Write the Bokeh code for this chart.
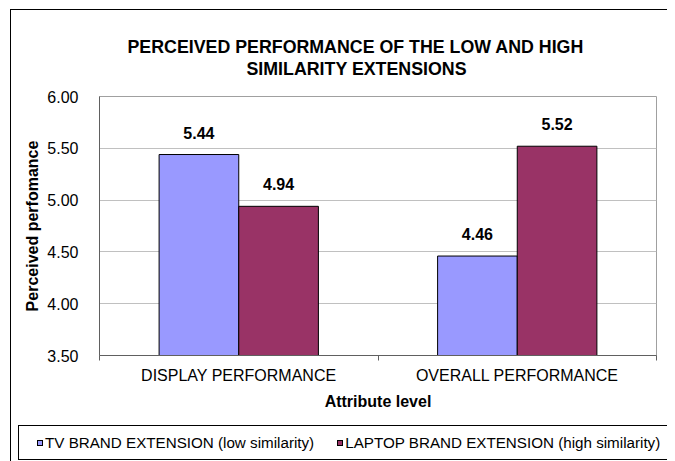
from bokeh.plotting import figure
from bokeh.layouts import column
from bokeh.models import (ColumnDataSource, Range1d, FixedTicker, NumeralTickFormatter, Title, Div)
from bokeh.core.properties import value
from bokeh.embed import file_html
from bokeh.resources import INLINE
import numpy as np

# ---- data ----
categories = ["DISPLAY PERFORMANCE", "OVERALL PERFORMANCE"]
series_names = ["TV BRAND EXTENSION (low similarity)",
                "LAPTOP BRAND EXTENSION (high similarity)"]
series_colors = ["#9999FF", "#993366"]
tv_values = [5.44, 4.46]
laptop_values = [4.94, 5.52]
y_ticks = [3.50, 4.00, 4.50, 5.00, 5.50, 6.00]
title_lines = ["PERCEIVED PERFORMANCE OF THE LOW AND HIGH", "SIMILARITY EXTENSIONS"]
x_title = "Attribute level"
y_title = "Perceived perfomance"

FONT = "Liberation Sans"
y_min, y_max = y_ticks[0], y_ticks[-1]
n = len(categories)
idx = np.arange(n)
bar_w = 0.286

p = figure(frame_width=557, frame_height=259,
           x_range=Range1d(-0.5, n - 0.5), y_range=Range1d(y_min, y_max),
           output_backend="svg", toolbar_location=None,
           min_border_left=88, min_border_right=11,
           min_border_top=86, min_border_bottom=70)
p.title.text = ""
p.background_fill_color = "white"
p.border_fill_color = "white"
p.outline_line_color = "#a0a0a0"

src_tv = ColumnDataSource(dict(x=idx - bar_w / 2, top=tv_values,
                               lab=[f"{v:.2f}" for v in tv_values]))
src_lp = ColumnDataSource(dict(x=idx + bar_w / 2, top=laptop_values,
                               lab=[f"{v:.2f}" for v in laptop_values]))

p.vbar(x="x", top="top", bottom=y_min, width=bar_w, source=src_tv,
       fill_color=series_colors[0], line_color="black", line_width=1)
p.vbar(x="x", top="top", bottom=y_min, width=bar_w, source=src_lp,
       fill_color=series_colors[1], line_color="black", line_width=1)

for src in (src_tv, src_lp):
    p.text(x="x", y="top", text="lab", source=src, text_align="center",
           text_baseline="bottom", y_offset=-16,
           text_font=value(FONT), text_font_size="16px",
           text_font_style="bold", text_color="black")

# titles: spacer, then line 2 (inner), then line 1 (outer)
p.add_layout(Title(text=" ", text_font_size="1px", standoff=14), "above")
offsets = [28, 147]
for line, off in reversed(list(zip(title_lines, offsets))):
    p.add_layout(Title(text=line, align="left", offset=off, standoff=0,
                       vertical_align="middle",
                       text_font=FONT, text_font_size="17.8px",
                       text_font_style="bold", text_color="black"), "above")

# y axis
ya = p.yaxis[0]
ya.ticker = FixedTicker(ticks=y_ticks)
ya.formatter = NumeralTickFormatter(format="0.00")
ya.major_tick_line_color = None
ya.minor_tick_line_color = None
ya.axis_line_color = "#606060"
ya.major_label_standoff = 15
ya.major_label_text_font = FONT
ya.major_label_text_font_size = "16px"
ya.major_label_text_color = "black"
ya.axis_label = y_title
ya.axis_label_text_font = FONT
ya.axis_label_text_font_size = "16px"
ya.axis_label_text_font_style = "bold"
ya.axis_label_text_color = "black"
ya.axis_label_standoff = 3

# x axis
xa = p.xaxis[0]
xa.ticker = FixedTicker(ticks=list(idx), minor_ticks=[i - 0.5 for i in range(n + 1)])
xa.major_label_overrides = {int(i): c for i, c in zip(idx, categories)}
xa.major_tick_line_color = None
xa.major_tick_in = 0
xa.major_tick_out = 0
xa.minor_tick_in = 0
xa.minor_tick_out = 5
xa.minor_tick_line_color = "#606060"
xa.axis_line_color = "#606060"
xa.major_label_standoff = 6
xa.major_label_text_font = FONT
xa.major_label_text_font_size = "16px"
xa.major_label_text_color = "black"
xa.axis_label = x_title
xa.axis_label_text_font = FONT
xa.axis_label_text_font_size = "16px"
xa.axis_label_text_font_style = "bold"
xa.axis_label_text_color = "black"
xa.axis_label_standoff = 6

p.xgrid.grid_line_color = None
p.ygrid.grid_line_color = "#c0c0c0"
p.ygrid.ticker = FixedTicker(ticks=y_ticks)

# legend strip (HTML), built from the series names and colours
def legend_item(name, color):
    return ('<span style="display:inline-flex;align-items:center;margin-right:23px;">'
            f'<span style="display:inline-block;width:6px;height:6px;border:1px solid black;'
            f'background:{color};margin-right:2px;"></span>'
            f'<span>{name}</span></span>')

legend_html = ('<div style="box-sizing:border-box;margin-left:7px;width:649px;height:35px;'
               'border:1px solid black;border-right:none;padding-left:18px;display:flex;'
               'align-items:center;font-family:\'Liberation Sans\';font-size:15.2px;'
               'color:black;white-space:nowrap;background:white;">'
               + "".join(legend_item(nm, c) for nm, c in zip(series_names, series_colors))
               + '</div>')
legend_div = Div(text=legend_html, width=656, height=36, margin=0)

layout = column(p, legend_div, spacing=0,
                styles={"border-top": "1px solid black", "border-left": "1px solid black",
                        "margin-left": "10px", "margin-top": "9px"})

open("out.html", "w").write(file_html(layout, INLINE))
